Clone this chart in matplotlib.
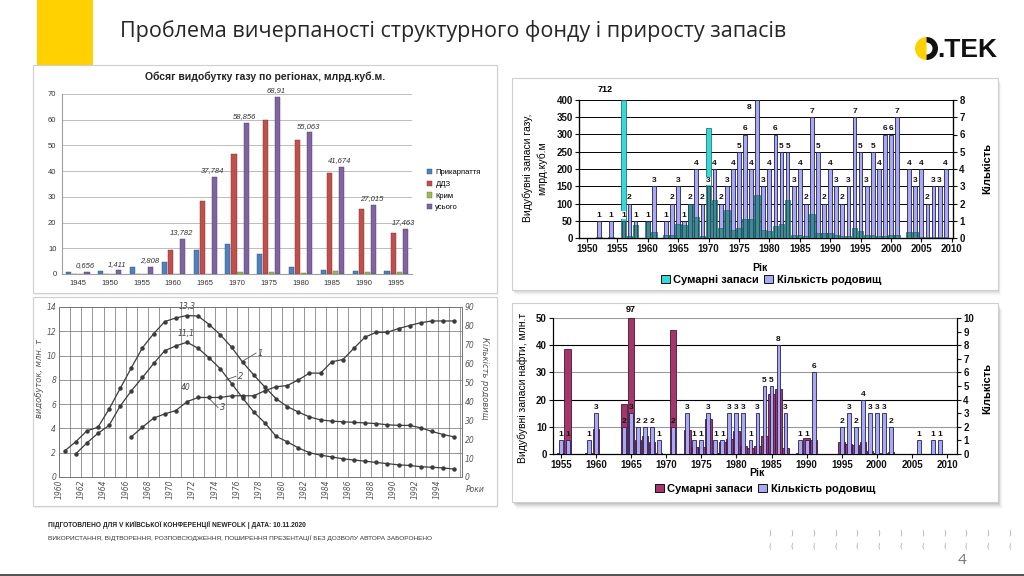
import matplotlib
matplotlib.use('Agg')
import matplotlib.pyplot as plt
import numpy as np
from matplotlib.patches import Rectangle, Wedge

# ---------------- DATA ----------------
# Top-left: gas production by regions, bcm
tl_years = ['1945', '1950', '1955', '1960', '1965', '1970', '1975', '1980', '1985', '1990', '1995']
tl_prykarp = [0.6, 1.3, 2.7, 4.5, 9.5, 11.5, 7.8, 2.8, 1.4, 1.0, 1.0]
tl_ddz = [0.05, 0.1, 0.1, 9.2, 28.2, 46.6, 60.0, 52.0, 39.2, 25.3, 15.8]
tl_krym = [0.0, 0.0, 0.0, 0.05, 0.1, 0.7, 0.7, 0.3, 1.0, 0.7, 0.6]
tl_total = [0.656, 1.411, 2.808, 13.782, 37.784, 58.856, 68.91, 55.063, 41.674, 27.015, 17.463]
tl_total_labels = ['0,656', '1,411', '2,808', '13,782', '37,784', '58,856', '68,91', '55,063', '41,674', '27,015', '17,463']
tl_series_names = ['Прикарпаття', 'ДДЗ', 'Крим', 'усього']

# Top-right: gas reserves (bcm) and number of fields per year
gas_years = list(range(1950, 2010))
gas_count = [0, 0, 1, 0, 1, 0, 1, 2, 1, 0,
             1, 3, 0, 1, 2, 3, 1, 2, 4, 2,
             3, 4, 2, 3, 4, 5, 6, 4, 8, 3,
             4, 6, 5, 5, 3, 4, 2, 7, 5, 2,
             4, 3, 2, 3, 7, 5, 3, 5, 4, 6,
             6, 7, 0, 4, 3, 4, 2, 3, 3, 4]
gas_reserves = [0, 0, 3, 0, 2, 0, 712, 5, 38, 0,
                45, 18, 0, 8, 10, 40, 38, 100, 62, 5,
                320, 110, 30, 80, 22, 30, 55, 55, 125, 22,
                20, 35, 40, 110, 10, 8, 5, 70, 15, 15,
                15, 10, 5, 5, 30, 20, 8, 8, 5, 5,
                8, 8, 0, 18, 18, 2, 2, 2, 2, 2]

# Bottom-right: oil reserves (mln t) and number of fields per year
oil_years = list(range(1955, 2010))
oil_count = [1, 1, 0, 0, 1, 3, 0, 0, 0, 2,
             3, 2, 2, 2, 1, 0, 2, 0, 3, 1,
             1, 3, 1, 1, 3, 3, 3, 1, 3, 5,
             5, 8, 3, 0, 1, 1, 6, 0, 0, 0,
             2, 3, 2, 4, 3, 3, 3, 2, 0, 0,
             0, 1, 0, 1, 1]
oil_reserves = [0.3, 38.5, 0, 0, 0.3, 9.2, 0, 0, 0, 18.2,
                97, 5.1, 6.5, 4.5, 0.3, 0, 45.5, 0, 8.8, 2.5,
                2.5, 13, 0.3, 4.3, 5.5, 8.3, 3.0, 2.3, 2.8, 6.5,
                22, 24, 2.2, 0, 0.3, 5.8, 5.2, 0, 0, 0,
                4.5, 3.7, 3.2, 4.5, 1.2, 0.5, 0.3, 0.6, 0, 0,
                0, 0.1, 0, 0.1, 0.1]

# Bottom-left: oil production curves (mln t) and number of fields
bl_years = np.arange(1960, 1996)
bl_curve1 = [2.14, 2.9, 3.8, 4.1, 5.6, 7.3, 9.0, 10.65, 11.8, 12.8, 13.1, 13.3, 13.25, 12.55,
             11.7, 10.7, 9.45, 8.4, 7.4, 6.45, 5.8, 5.35, 4.95, 4.7, 4.6, 4.55, 4.5, 4.45,
             4.4, 4.3, 4.25, 4.25, 4.05, 3.75, 3.5, 3.3]
bl_years2 = np.arange(1961, 1996)
bl_curve2 = [1.9, 2.8, 3.6, 4.25, 5.85, 7.1, 8.2, 9.35, 10.4, 10.8, 11.1, 10.6, 9.8, 8.9,
             7.7, 6.5, 5.35, 4.45, 3.35, 2.9, 2.4, 2.0, 1.8, 1.65, 1.5, 1.4, 1.3, 1.2,
             1.1, 1.0, 0.95, 0.85, 0.8, 0.75, 0.65]
bl_years3 = np.arange(1966, 1996)
bl_curve3 = [21.3, 26.4, 31.2, 33.4, 35.2, 39.9, 42.1, 42.1, 42.1, 43, 43, 43, 45.7, 47.8,
             48.4, 51.4, 55, 55, 61, 62.2, 68.2, 74.1, 76.6, 76.6, 78.6, 80.2, 81.7, 82.6,
             82.6, 82.6]

# ---------------- FIGURE ----------------
W, H = 1024, 576
fig = plt.figure(figsize=(10.24, 5.76), dpi=100)
fig.patch.set_facecolor('white')

NARROW = ['Liberation Sans Narrow', 'Liberation Sans', 'DejaVu Sans']
ARIAL = ['Liberation Sans', 'DejaVu Sans']


def rect_px(x0, y0, x1, y1):
    return [x0 / W, 1 - y1 / H, (x1 - x0) / W, (y1 - y0) / H]


def axes_px(x0, y0, x1, y1):
    return fig.add_axes(rect_px(x0, y0, x1, y1))


def ftext(x, y, s, **kw):
    return fig.text(x / W, 1 - y / H, s, **kw)


def frect(x0, y0, x1, y1, **kw):
    r = Rectangle((x0 / W, 1 - y1 / H), (x1 - x0) / W, (y1 - y0) / H,
                  transform=fig.transFigure, **kw)
    fig.patches.append(r)
    return r


def panel(x0, y0, x1, y1, shadow=4, strength=0.06):
    for d in range(shadow, 0, -1):
        frect(x0 + d * 0.6, y0 + d, x1 + d * 0.6, y1 + d, facecolor='black',
              alpha=strength * (shadow - d + 1) / shadow, edgecolor='none', zorder=-3)
    frect(x0, y0, x1, y1, facecolor='white', edgecolor='#cfcfcf', lw=0.8, zorder=-2)


# Yellow accent + title + logo
frect(37, 0, 93, 65, facecolor='#FFD100', edgecolor='none', zorder=-4)
ftext(120, 31, 'Проблема вичерпаності структурного фонду і приросту запасів',
      fontsize=15.5, family=['Open Sans', 'DejaVu Sans'], color='#262626', va='center', ha='left')
# logo: yellow half-disc + black bowl of "D", then ".TEK"
cx, cy, rr = 926.5, 48.5, 11.5
fig.patches.append(Wedge((cx / 100, (H - cy) / 100), rr / 100, 90, 270,
                         transform=fig.dpi_scale_trans, facecolor='#FFD100', edgecolor='none', zorder=2))
fig.patches.append(Wedge((cx / 100, (H - cy) / 100), rr / 100, -90, 90, width=5.5 / 100,
                         transform=fig.dpi_scale_trans, facecolor='#111111', edgecolor='none', zorder=2))
ftext(937, 50, '.TEK', fontsize=19, family=NARROW, weight='bold', color='#111111',
      va='center', ha='left')

# Panels
panel(33, 65, 497, 293, shadow=3, strength=0.05)
panel(512, 78, 998, 290, shadow=6, strength=0.06)
panel(33, 297, 497, 506, shadow=3, strength=0.05)
panel(512, 303, 998, 502, shadow=8, strength=0.07)

# ---------------- TOP-LEFT ----------------
ax = axes_px(62, 94, 412, 274)
ax.patch.set_visible(False)
x = np.arange(len(tl_years))
cols = ['#4F81BD', '#C0504D', '#9BBB59', '#8064A2']
edges = ['#2c4d77', '#7d2a28', '#5e7a30', '#4b3868']
series = [tl_prykarp, tl_ddz, tl_krym, tl_total]
offs = [-0.285, -0.095, 0.095, 0.285]
handles = []
for s, c, e, o, n in zip(series, cols, edges, offs, tl_series_names):
    b = ax.bar(x + o, s, width=0.16, color=c, edgecolor=e, lw=0.3, label=n, zorder=3)
    handles.append(b)
for xi, v, lab in zip(x, tl_total, tl_total_labels):
    ax.annotate(lab, (xi + offs[3], v), xytext=(-1, 2), textcoords='offset points',
                ha='center', va='bottom', fontsize=5.5, style='italic', color='#333333',
                family=ARIAL)
ax.set_xlim(-0.5, len(tl_years) - 0.5)
ax.set_ylim(0, 70)
ax.set_yticks(range(0, 71, 10))
ax.set_xticks(x)
ax.set_xticklabels(tl_years)
ax.tick_params(labelsize=5.5, length=0, colors='#333333', pad=4)
for lab in ax.get_xticklabels() + ax.get_yticklabels():
    lab.set_family(ARIAL)
ax.yaxis.grid(True, color='#bdbdbd', lw=0.7, zorder=0)
ax.set_axisbelow(True)
for sp in ['top', 'right']:
    ax.spines[sp].set_visible(False)
ax.spines['left'].set_color('#a0a0a0')
ax.spines['bottom'].set_color('#a0a0a0')
ax.set_title('Обсяг видобутку газу по регіонах, млрд.куб.м.', fontsize=7.5, weight='bold',
             family=ARIAL, color='#222222', pad=10, x=0.58)
fig.legend(handles=handles, labels=tl_series_names, loc='upper left',
           bbox_to_anchor=(424 / W, 1 - 166 / H), frameon=False,
           prop=dict(size=5.5, family=ARIAL), handlelength=0.7, handleheight=0.7,
           labelspacing=0.55, handletextpad=0.4, borderaxespad=0)

# ---------------- TOP-RIGHT ----------------
axr = axes_px(579, 100, 953, 238)
axr2 = axr.twinx()
axr2.patch.set_visible(False)
gy = np.array(gas_years)
gc = np.array(gas_count)
gr = np.array(gas_reserves)
scale = 400 / 8  # primary units per count unit
axr.bar(gy[gr > 0], np.minimum(gr[gr > 0], 400), width=0.9, color='#33DADA',
        edgecolor='#1d5e5e', lw=0.5, zorder=3)
axr2.bar(gy[gc > 0], gc[gc > 0], width=0.62, color='#A9A9F2', edgecolor='#22225a', lw=0.6, zorder=3)
ov = np.minimum(gr / scale, gc)
axr2.bar(gy[ov > 0], ov[ov > 0], width=0.62, color='#2E8585', edgecolor='#1a4a4a', lw=0.4,
         alpha=0.85, zorder=4)
axr.set_xlim(1948.7, 2010.2)
axr.set_ylim(0, 400)
axr2.set_ylim(0, 8)
axr.set_yticks(range(0, 401, 50))
axr2.set_yticks(range(0, 9))
axr.set_xticks(range(1950, 2011, 5))
axr.yaxis.grid(True, color='#000000', lw=0.7, zorder=0)
axr.set_axisbelow(True)
for a in (axr, axr2):
    a.spines['top'].set_visible(False)
    a.tick_params(labelsize=7, length=3, width=0.8, pad=1.5, colors='#111111')
    for lab in a.get_xticklabels() + a.get_yticklabels():
        lab.set_family(ARIAL)
        lab.set_weight('bold')
axr2.spines['right'].set_linewidth(0.9)
axr.spines['left'].set_linewidth(0.9)
axr.spines['bottom'].set_linewidth(0.9)
for yv, cv in zip(gy, gc):
    if cv > 0:
        off = (-6, -8) if cv >= 8 else (0, 1.5)
        axr2.annotate(str(cv), (yv, cv), xytext=off,
                      textcoords='offset points', ha='center', va='bottom', fontsize=6,
                      weight='bold', family=ARIAL, color='#111111', zorder=6,
                      bbox=dict(facecolor='white', edgecolor='none', pad=0.4))
for yv, rv in zip(gy, gr):
    if rv > 400:
        axr.annotate(str(rv), (yv, 400), xytext=(-13, 4), textcoords='offset points',
                     ha='center', va='bottom', fontsize=6.5, weight='bold', family=ARIAL,
                     annotation_clip=False)
ftext(535, 168, 'Видубувні запаси газу,\nмлрд.куб.м', rotation=90, ha='center', va='center',
      fontsize=7.5, family=NARROW, linespacing=1.4)
ftext(987, 168, 'Кількість', rotation=90, ha='center', va='center', fontsize=8,
      family=NARROW, weight='bold')
ftext(760, 268, 'Рік', ha='center', va='center', fontsize=7.5, family=ARIAL, weight='bold')
h_gas = [Rectangle((0, 0), 1, 1, facecolor='#33DADA', edgecolor='#111111', lw=0.7),
         Rectangle((0, 0), 1, 1, facecolor='#A9A9F2', edgecolor='#111111', lw=0.7)]
fig.legend(handles=h_gas, labels=['Сумарні запаси', 'Кількість родовищ'], loc='center',
           bbox_to_anchor=(771 / W, 1 - 280 / H), ncol=2, frameon=False,
           prop=dict(size=8, family=ARIAL, weight='bold'), handlelength=0.8,
           handleheight=0.8, handletextpad=0.3, columnspacing=0.5, borderaxespad=0)

# ---------------- BOTTOM-RIGHT ----------------
axo = axes_px(553, 318, 957, 454)
axo.patch.set_visible(False)
axo2 = axo.twinx()
oy = np.array(oil_years)
orr = np.array(oil_reserves)
oc = np.array(oil_count)
axo.bar(oy[orr > 0], np.minimum(orr[orr > 0], 50), width=0.95, color='#A3366B',
        edgecolor='#4a1530', lw=0.6, zorder=3)
axo2.bar(oy[oc > 0], oc[oc > 0], width=0.55, color='#A9A9F2', edgecolor='#22225a', lw=0.6, zorder=3)
axo.set_xlim(1953.9, 2011.4)
axo.set_ylim(0, 50)
axo2.set_ylim(0, 10)
axo.set_yticks(range(0, 51, 10))
axo2.set_yticks(range(0, 11))
axo.set_xticks(range(1955, 2011, 5))
axo.yaxis.grid(True, lw=0.8, zorder=0)
axo.set_axisbelow(True)
for gl, v in zip(axo.get_ygridlines(), axo.get_yticks()):
    gl.set_color('#000000' if v in (20, 40) else '#9a9a9a')
for a in (axo, axo2):
    a.spines['top'].set_visible(False)
    a.tick_params(labelsize=7, length=3, width=0.8, pad=1.5, colors='#111111')
    for lab in a.get_xticklabels() + a.get_yticklabels():
        lab.set_family(ARIAL)
        lab.set_weight('bold')
for yv, cv in zip(oy, oc):
    if cv > 0:
        axo2.annotate(str(cv), (yv, cv), xytext=(0, 1.5), textcoords='offset points',
                      ha='center', va='bottom', fontsize=6, weight='bold', family=ARIAL,
                      color='#111111', zorder=6)
for yv, rv in zip(oy, orr):
    if rv > 50:
        axo.annotate('%g' % rv, (yv, 50), xytext=(0, 3), textcoords='offset points',
                     ha='center', va='bottom', fontsize=6.5, weight='bold', family=ARIAL,
                     annotation_clip=False)
ftext(523, 388, 'Видубувні запаси нафти, млн.т', rotation=90, ha='center', va='center',
      fontsize=7.5, family=NARROW)
ftext(987, 388, 'Кількість', rotation=90, ha='center', va='center', fontsize=8,
      family=NARROW, weight='bold')
ftext(757, 473, 'Рік', ha='center', va='center', fontsize=7.5, family=ARIAL, weight='bold')
h_oil = [Rectangle((0, 0), 1, 1, facecolor='#A3366B', edgecolor='#111111', lw=0.7),
         Rectangle((0, 0), 1, 1, facecolor='#A9A9F2', edgecolor='#111111', lw=0.7)]
fig.legend(handles=h_oil, labels=['Сумарні запаси', 'Кількість родовищ'], loc='center',
           bbox_to_anchor=(765 / W, 1 - 489 / H), ncol=2, frameon=False,
           prop=dict(size=8, family=ARIAL, weight='bold'), handlelength=0.8,
           handleheight=0.8, handletextpad=0.3, columnspacing=0.5, borderaxespad=0)

# ---------------- BOTTOM-LEFT (scanned line chart) ----------------
axl = axes_px(59, 307, 462, 477)
axl.patch.set_visible(False)
axl2 = axl.twinx()
lc = '#3c3c3c'
mid = 0.5  # values plotted at mid-year
axl.plot(bl_years + mid, bl_curve1, color=lc, lw=0.9, marker='o', ms=2.2, zorder=3)
axl.plot(bl_years2 + mid, bl_curve2, color=lc, lw=0.9, marker='o', ms=2.2, zorder=3)
axl2.plot(bl_years3 + mid, bl_curve3, color=lc, lw=0.9, marker='o', ms=2.2, zorder=3)
axl.set_xlim(1960, 1996.2)
axl.set_ylim(0, 14)
axl2.set_ylim(0, 90)
axl.set_yticks(range(0, 15, 2))
axl2.set_yticks(range(0, 91, 10))
ticks = np.arange(1960, 1997)
axl.set_xticks(ticks)
axl.set_xticklabels([str(t) if (t % 2 == 0 and t < 1996) else '' for t in ticks],
                    rotation=90, style='italic')
axl.grid(True, color='#7a7a7a', lw=0.55, zorder=0)
for a in (axl, axl2):
    a.tick_params(labelsize=5.5, length=0, colors='#555555', pad=2)
    for sp in a.spines.values():
        sp.set_color('#777777')
        sp.set_linewidth(0.7)
    for lab in a.get_yticklabels():
        lab.set_style('italic')
axl.annotate('13,3', (1971 + mid, 13.3), xytext=(0, 3), textcoords='offset points',
             ha='center', va='bottom', fontsize=5.5, style='italic', color='#444444')
axl.annotate('11,1', (1971 + mid, 11.1), xytext=(-1, 3), textcoords='offset points',
             ha='center', va='bottom', fontsize=5.5, style='italic', color='#444444')
axl2.annotate('40', (1971 + mid, 39.9), xytext=(-1, 7), textcoords='offset points',
              ha='center', va='bottom', fontsize=5.5, style='italic', color='#444444')
for lab, p0, p1 in [('1', (1976.6, 9.6), (1977.7, 10.2)),
                    ('2', (1975.0, 8.0), (1975.9, 8.3)),
                    ('3', (1973.5, 6.45), (1974.3, 5.7))]:
    axl.plot([p0[0], p1[0]], [p0[1], p1[1]], color='#555555', lw=0.6, zorder=4)
    axl.text(p1[0] + 0.15, p1[1], lab, fontsize=6, style='italic', color='#444444',
             ha='left', va='center')
ftext(39, 378, 'видобуток, млн. т', rotation=90, ha='center', va='center', fontsize=6,
      style='italic', color='#555555')
ftext(485, 378, 'Кількість родовищ', rotation=-90, ha='center', va='center', fontsize=6,
      style='italic', color='#555555')
ftext(475, 489, 'Роки', ha='center', va='center', fontsize=5.5, style='italic', color='#555555')

# ---------------- FOOTER ----------------
ftext(48, 525, 'ПІДГОТОВЛЕНО ДЛЯ V КИЇВСЬКОЇ КОНФЕРЕНЦІЇ NEWFOLK | ДАТА: 10.11.2020',
      fontsize=4.8, family=NARROW, weight='bold', color='#222222', va='center')
ftext(48, 538, 'ВИКОРИСТАННЯ, ВІДТВОРЕННЯ, РОЗПОВСЮДЖЕННЯ, ПОШИРЕННЯ ПРЕЗЕНТАЦІЇ БЕЗ ДОЗВОЛУ АВТОРА ЗАБОРОНЕНО',
      fontsize=4.65, family=NARROW, color='#333333', va='center')
for i in range(12):
    xx = 770 + i * 21.8
    ftext(xx, 533, ')', fontsize=5, color='#9a9a9a', ha='center', va='center')
    ftext(xx, 546, '(', fontsize=5, color='#9a9a9a', ha='center', va='center')
ftext(962, 561, '4', fontsize=11, color='#777777', ha='center', va='center',
      family=['Open Sans', 'DejaVu Sans'])
frect(0, 574, 1024, 576, facecolor='#555555', edgecolor='none', zorder=-4)

fig.savefig('out.png', dpi=100, facecolor='white')
